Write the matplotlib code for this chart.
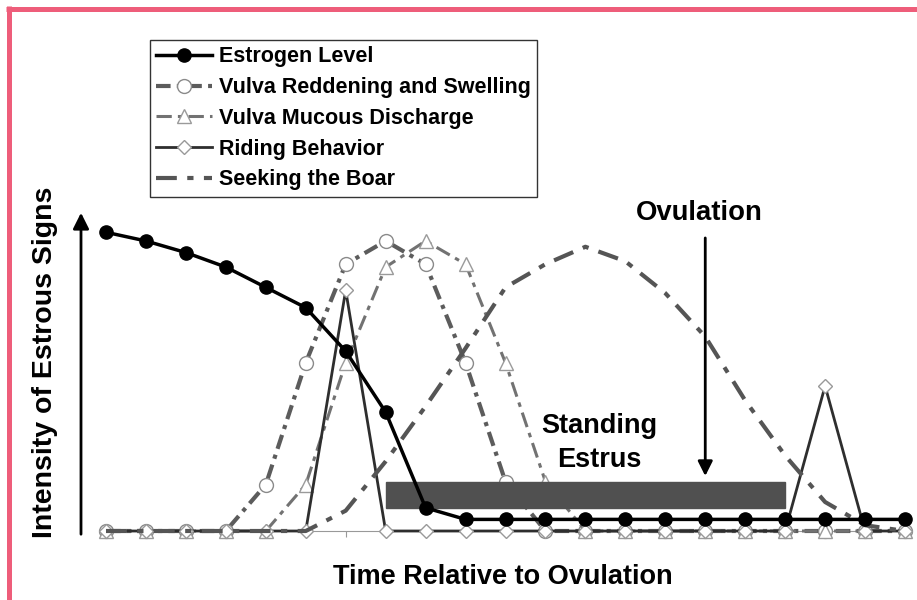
import matplotlib
matplotlib.use("Agg")
import matplotlib.pyplot as plt
from matplotlib.lines import Line2D
from matplotlib.patches import Rectangle

plt.rcParams["font.family"] = ["Liberation Sans", "DejaVu Sans"]
plt.rcParams["font.weight"] = "bold"

# time points (no labels on the axis)
t = list(range(21))

estrogen = [103, 100, 96, 91, 84, 77, 62, 41, 8, 4, 4, 4, 4, 4, 4, 4, 4, 4, 4, 4, 4]
reddening = [0, 0, 0, 0, 16, 58, 92, 100, 92, 58, 17, 0, 0, 0, 0, 0, 0, 0, 0, 0, 0]
mucous = [0, 0, 0, 0, 0, 16, 58, 91, 100, 92, 58, 17, 0, 0, 0, 0, 0, 0, 0, 0, 0]
riding = [0, 0, 0, 0, 0, 0, 83, 0, 0, 0, 0, 0, 0, 0, 0, 0, 0, 0, 50, 0, 0]
seeking = [0, 0, 0, 0, 0, 0, 7, 24, 43, 63, 84, 92, 98, 93, 82, 67, 45, 26, 10, 2, 0]

labels = ["Estrogen Level", "Vulva Reddening and Swelling", "Vulva Mucous Discharge",
          "Riding Behavior", "Seeking the Boar"]

standing_start, standing_end = 7, 17
standing_low, standing_high = 8, 17
ovulation = 15

W, H = 917, 600
fig = plt.figure(figsize=(W / 100, H / 100), dpi=100)
ax = fig.add_axes([100 / W, (H - 531) / H, (911 - 100) / W, (531 - 205) / H])

ax.plot(t, reddening, color="#5c5c5c", lw=3, dashes=(3.5, 1.5, 1, 1.5),
        marker="o", ms=10, mfc="white", mec="#8a8a8a", mew=1, label=labels[1],
        clip_on=False, zorder=3)
ax.plot(t, mucous, color="#727272", lw=2.2, dashes=(5, 2, 1.5, 2),
        marker="^", ms=10, mfc="white", mec="#9a9a9a", mew=1, label=labels[2],
        clip_on=False, zorder=3)
ax.plot(t, riding, color="#2e2e2e", lw=2, marker="D", ms=7, mfc="white",
        mec="#999999", mew=1, label=labels[3], clip_on=False, zorder=3)
ax.plot(t, seeking, color="#555555", lw=3, dashes=(5, 2.5, 1.5, 2.5),
        label=labels[4], clip_on=False, zorder=3)

# standing estrus bar
ax.add_patch(Rectangle((standing_start, standing_low), standing_end - standing_start,
                       standing_high - standing_low, color="#505050", zorder=4))

ax.plot(t, estrogen, color="black", lw=2.5, marker="o", ms=9.5, mfc="black",
        mec="black", label=labels[0], clip_on=False, zorder=5)

ax.text(12.34, 30.5, "Standing\nEstrus", ha="center", va="center", fontsize=19.5,
        fontweight="bold", linespacing=1.4, zorder=6)
ax.text(14.85, 109.5, "Ovulation", ha="center", va="center", fontsize=19.8,
        fontweight="bold", zorder=6)
ax.annotate("", xy=(ovulation, 18), xytext=(ovulation, 102),
            arrowprops=dict(arrowstyle="-|>", lw=2, color="black", mutation_scale=22),
            zorder=6)

ax.set_xlim(-0.15, 20.15)
ax.set_ylim(0, 112.4)
for s in ["left", "top", "right"]:
    ax.spines[s].set_visible(False)
ax.spines["bottom"].set_color("#999999")
ax.spines["bottom"].set_linewidth(0.8)
ax.set_xticks(t)
ax.set_xticklabels([])
ax.set_yticks([])
ax.tick_params(axis="x", length=4, color="#999999", direction="out")

# legend in original order
h, l = ax.get_legend_handles_labels()
order = [l.index(x) for x in labels]
leg = fig.legend([h[i] for i in order], [l[i] for i in order], loc="upper left",
                 bbox_to_anchor=(150 / W, 1 - 40 / H), fontsize=15.5, numpoints=1,
                 frameon=True, fancybox=False, edgecolor="black", handlelength=2.6,
                 handletextpad=0.3, labelspacing=0.45, borderpad=0.3, borderaxespad=0)
leg.get_frame().set_linewidth(1)
for txt in leg.get_texts():
    txt.set_fontweight("bold")

# y axis arrow
fig.add_artist(matplotlib.patches.FancyArrowPatch(
    (81 / W, 1 - 537 / H), (81 / W, 1 - 210 / H), transform=fig.transFigure,
    arrowstyle="-|>", mutation_scale=24, lw=2, color="black"))

fig.text(45 / W, 1 - 362 / H, "Intensity of Estrous Signs", rotation=90,
         ha="center", va="center", fontsize=20.5, fontweight="bold")
fig.text(503 / W, 1 - 577 / H, "Time Relative to Ovulation", ha="center",
         va="center", fontsize=19.5, fontweight="bold")

# pink frame (top and left)
fig.add_artist(Line2D([6 / W, 1], [1 - 8.5 / H, 1 - 8.5 / H], transform=fig.transFigure,
                      color="#EE5D7A", lw=3.6, solid_capstyle="butt"))
fig.add_artist(Line2D([8.5 / W, 8.5 / W], [0, 1 - 6 / H], transform=fig.transFigure,
                      color="#EE5D7A", lw=3.6, solid_capstyle="butt"))

fig.savefig("out.png", dpi=100)
